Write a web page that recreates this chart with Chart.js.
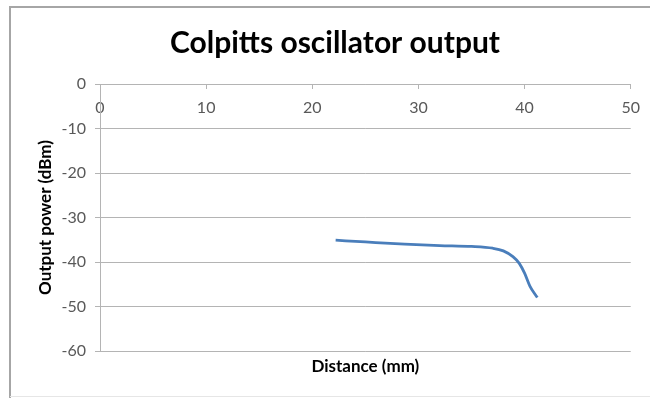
<!DOCTYPE html>
<html>
<head>
<meta charset="utf-8">
<script src="https://cdn.jsdelivr.net/npm/chart.js@4/dist/chart.umd.min.js"></script>
<style>
  html, body { margin: 0; padding: 0; background: #fff; }
  #wrap { position: relative; width: 650px; height: 398px; }
</style>
</head>
<body>
<div id="wrap"><canvas id="c" width="650" height="398"></canvas></div>
<script>
// Measured output power versus coil distance
const distanceMm = [22.2, 25, 28.7, 32, 35, 37, 38, 38.9, 39.5, 40, 40.5, 41.2];
const powerDbm   = [-35.1, -35.5, -36.0, -36.3, -36.5, -36.9, -37.5, -38.8, -40.3, -42.5, -45.4, -48.0];

const xTicks = [0, 10, 20, 30, 40, 50];
const yTicks = [0, -10, -20, -30, -40, -50, -60];

const chartTitle = 'Colpitts oscillator output';
const xTitle = 'Distance (mm)';
const yTitle = 'Output power (dBm)';

const points = distanceMm.map((d, i) => ({ x: d, y: powerDbm[i] }));

const axisGrey = '#b4b4b4';
const tickText = '#595959';

// White background plus the outer frame of the chart object
const framePlugin = {
  id: 'frame',
  beforeDraw(chart) {
    const ctx = chart.ctx;
    ctx.save();
    ctx.fillStyle = '#ffffff';
    ctx.fillRect(0, 0, chart.width, chart.height);
    ctx.strokeStyle = '#a6a6a6';
    ctx.lineWidth = 2;
    ctx.beginPath();
    ctx.moveTo(10, chart.height);
    ctx.lineTo(10, 7);
    ctx.lineTo(chart.width, 7);
    ctx.stroke();
    ctx.strokeStyle = '#e6e6e6';
    ctx.lineWidth = 1;
    ctx.beginPath();
    ctx.moveTo(10, chart.height - 1.5);
    ctx.lineTo(chart.width, chart.height - 1.5);
    ctx.stroke();
    ctx.restore();
  }
};

new Chart(document.getElementById('c'), {
  type: 'scatter',
  data: {
    datasets: [{
      data: points,
      showLine: true,
      borderColor: '#4a7ebb',
      borderWidth: 2.8,
      pointRadius: 0,
      pointHoverRadius: 0,
      cubicInterpolationMode: 'monotone',
      fill: false
    }]
  },
  options: {
    responsive: false,
    animation: false,
    events: [],
    layout: { padding: { left: 38, right: 18, top: 0, bottom: 0 } },
    plugins: {
      legend: { display: false },
      tooltip: { enabled: false },
      title: {
        display: true,
        text: chartTitle,
        color: '#000000',
        font: { family: 'Lato', size: 30, weight: 'bold', lineHeight: 1.2 },
        padding: { top: 25, bottom: 23 }
      },
      subtitle: {
        display: true,
        position: 'bottom',
        fullSize: false,
        text: xTitle,
        color: '#000000',
        font: { family: 'Lato', size: 17, weight: 'bold', lineHeight: 1.2 },
        padding: { top: 5, bottom: 21.6 }
      }
    },
    scales: {
      x: {
        type: 'linear',
        position: { y: 0 },
        min: 0,
        max: 50,
        afterFit(scale) { scale.height = 0; },
        afterBuildTicks(scale) { scale.ticks = xTicks.map(v => ({ value: v })); },
        grid: { drawOnChartArea: false, drawTicks: true, tickLength: 4, color: axisGrey },
        border: { display: true, color: axisGrey, width: 1 },
        ticks: {
          color: tickText,
          padding: 10,
          maxRotation: 0,
          font: { family: 'Lato', size: 16 }
        }
      },
      y: {
        type: 'linear',
        position: 'left',
        min: -60,
        max: 0,
        afterFit(scale) { scale.width = 62; },
        afterBuildTicks(scale) { scale.ticks = yTicks.map(v => ({ value: v })); },
        grid: { drawOnChartArea: true, drawTicks: true, tickLength: 5, color: axisGrey },
        border: { display: true, color: axisGrey, width: 1 },
        title: {
          display: true,
          text: yTitle,
          color: '#000000',
          font: { family: 'Lato', size: 17, weight: 'bold', lineHeight: 1.2 },
          padding: { top: -3, bottom: 0 }
        },
        ticks: {
          color: tickText,
          padding: 9,
          font: { family: 'Lato', size: 16 }
        }
      }
    }
  },
  plugins: [framePlugin]
});
</script>
</body>
</html>
